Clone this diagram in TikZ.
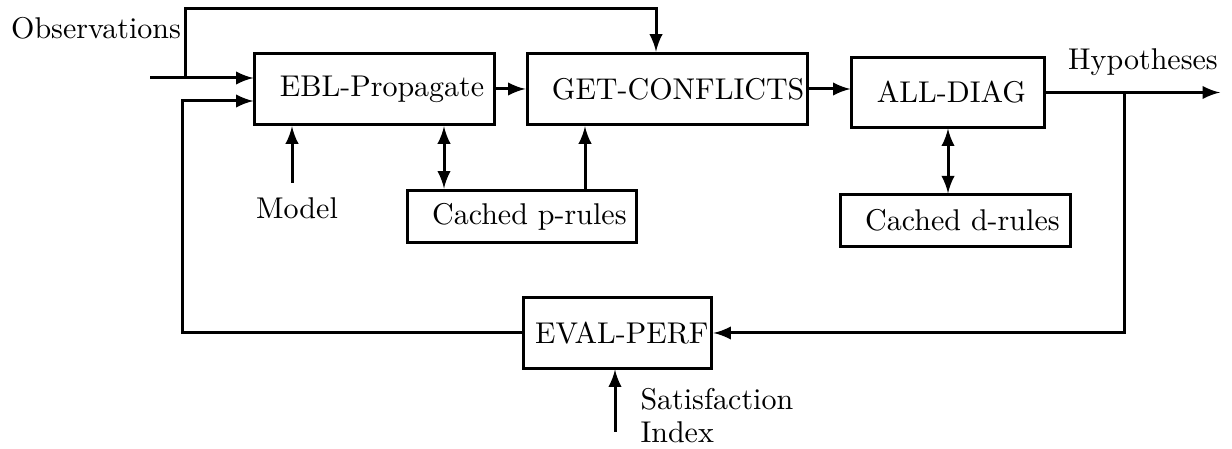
\documentclass[tikz,border=0pt]{standalone}
\begin{document}
\begin{tikzpicture}[x=0.1171cm,y=-0.1171cm,>=latex,line width=1pt]
    \tikzset{blk/.style={draw,minimum height=0.84cm,inner xsep=8.3pt,inner ysep=2pt,align=left}}
    \useasboundingbox (0,0) rectangle (123.2,44.9);
    \node [blk,text width=2.216cm] (ebl) at (37.45,8.9) {\mbox{EBL-Propagate}};
    \node [blk,text width=2.706cm] (get) at (66.75,8.9) {\mbox{GET-CONFLICTS}};
    \node [blk,text width=1.666cm,minimum height=0.81cm] (diag) at (94.8,9.25) {\mbox{ALL-DIAG}};
    \node [blk,text width=2.106cm,minimum height=0.62cm] (prules) at (52.2,21.65) {\mbox{Cached p-rules}};
    \node [blk,text width=2.116cm,minimum height=0.60cm] (drules) at (95.55,22.05) {\mbox{Cached d-rules}};
    \node [blk,inner xsep=4pt,text width=1.93cm,minimum height=0.82cm] (eval) at (61.75,33.3) {\mbox{EVAL-PERF}};
    \node (obs) at (9.6,2.8) {Observations};
    \node (model) at (29.7,20.8) {Model};
    \node (hyp) at (114.3,6.2) {Hypotheses};
    \node [align=left,anchor=west,inner sep=0pt] (sat) at (63.9,41.6) {Satisfaction\\[-1pt]Index};
    \path (15,7.8) coordinate (obsin) (18.5,0.9) coordinate (top) (65.6,0.9) coordinate (topr)
        (18.2,10.1) coordinate (backin) (29.2,18.3) coordinate (modin)
        (44.4,15) coordinate (pr) (58.5,15) coordinate (pg)
        (122,9.2) coordinate (out) (112.4,9.2) coordinate (br) (61.5,43.2) coordinate (satin);
    \draw [->] (obsin) -- (obsin -| ebl.west);
    \draw [->] (top |- obsin) -- (top) -- (topr) -- (topr |- get.north);
    \draw [->] (eval.west) -- (eval.west -| backin) -- (backin) -- (backin -| ebl.west);
    \draw [->] (ebl) -- (get);
    \draw [->] (get.east) -- (get.east -| diag.west);
    \draw [->] (modin) -- (modin |- ebl.south);
    \draw [<->] (pr |- ebl.south) -- (pr |- prules.north);
    \draw [->] (pg |- prules.north) -- (pg |- get.south);
    \draw [<->] (diag.south) -- (diag.south |- drules.north);
    \draw [->] (diag.east) -- (diag.east -| out);
    \draw [->] (br |- diag.east) -- (br |- eval.east) -- (eval.east);
    \draw [->] (satin) -- (satin |- eval.south);
\end{tikzpicture}
\end{document}
